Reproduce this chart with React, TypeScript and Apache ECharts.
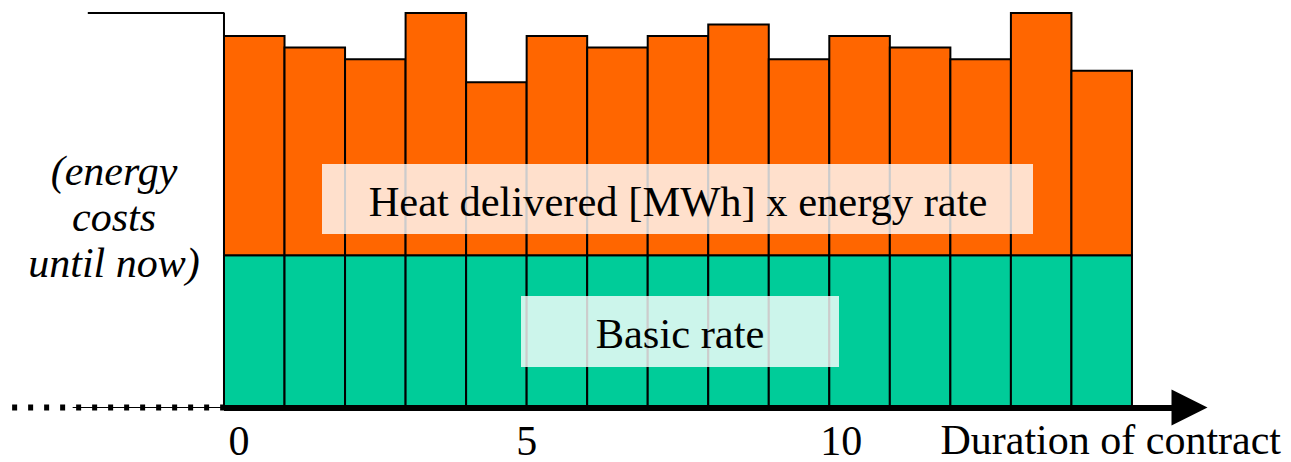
import React, { useEffect, useRef } from "react";
import * as echarts from "echarts";

// ---- data ----
const periods = [0, 1, 2, 3, 4, 5, 6, 7, 8, 9, 10, 11, 12, 13, 14];
const basicRate = [13.2, 13.2, 13.2, 13.2, 13.2, 13.2, 13.2, 13.2, 13.2, 13.2, 13.2, 13.2, 13.2, 13.2, 13.2];
const energyRate = [19, 18, 17, 21, 15, 19, 18, 19, 20, 17, 19, 18, 17, 21, 16];
const previousCosts = 34.2; // energy costs until now
const tickValues = [0, 5, 10];
const previousStart = -2.25;
const axisStart = -3.5;
const arrowEnd = 15.95;

const FONT = "Liberation Serif";

export default function App() {
  const ref = useRef<HTMLDivElement>(null);

  useEffect(() => {
    if (!ref.current) return;
    const chart = echarts.init(ref.current, null, { renderer: "svg" });

    const basicData = periods.map((p, i) => [p, 0, basicRate[i]]);
    const energyData = periods.map((p, i) => [p, basicRate[i], basicRate[i] + energyRate[i]]);

    const makeRender = (fill: string) => (params: any, api: any) => {
      const x = api.value(0);
      const p0 = api.coord([x, api.value(1)]);
      const p1 = api.coord([x + 1, api.value(2)]);
      return {
        type: "rect",
        shape: { x: p0[0], y: p1[1], width: p1[0] - p0[0], height: p0[1] - p1[1] },
        style: { fill, stroke: "#000", lineWidth: 2 },
      };
    };

    const tickStyle = { fontFamily: FONT, fontSize: 42, lineHeight: 34, color: "#000" };

    const option: any = {
      animation: false,
      backgroundColor: "#fff",
      textStyle: { fontFamily: FONT },
      grid: { left: 12.13, right: 37.97, top: 13, bottom: 54.5, containLabel: false },
      xAxis: {
        type: "value",
        min: axisStart,
        max: 17,
        axisLine: { show: false },
        axisTick: { show: false },
        splitLine: { show: false },
        axisLabel: {
          customValues: tickValues,
          margin: 16,
          fontFamily: FONT,
          fontSize: 42,
          lineHeight: 34,
          color: "#000",
          formatter: (v: number) => `{t${v}|${v}}`,
          rich: {
            t0: { ...tickStyle, padding: [0, 0, 0, 30] },
            t5: { ...tickStyle },
            t10: { ...tickStyle, padding: [0, 0, 0, 24] },
          },
        },
      },
      yAxis: {
        type: "value",
        min: 0,
        max: previousCosts,
        show: false,
        splitLine: { show: false },
      },
      series: [
        {
          type: "custom",
          name: "Basic rate",
          renderItem: makeRender("#00CC99"),
          encode: { x: 0, y: [1, 2] },
          data: basicData,
          z: 2,
        },
        {
          type: "custom",
          name: "Energy",
          renderItem: makeRender("#FF6600"),
          encode: { x: 0, y: [1, 2] },
          data: energyData,
          z: 2,
        },
        {
          type: "line",
          name: "previous",
          clip: false,
          symbol: "none",
          lineStyle: { color: "#000", width: 2 },
          data: [
            [previousStart, previousCosts],
            [0, previousCosts],
            [0, basicRate[0] + energyRate[0]],
          ],
          z: 3,
          markLine: {
            silent: true,
            symbol: ["none", "triangle"],
            symbolSize: [36, 36],
            label: { show: false },
            lineStyle: { color: "#000", width: 6, type: "solid", opacity: 1 },
            emphasis: { disabled: true },
            data: [[{ coord: [0, 0] }, { coord: [arrowEnd, 0] }]],
            z: 5,
          },
        },
        {
          type: "line",
          name: "past-axis",
          clip: false,
          symbol: "none",
          lineStyle: { color: "#000", width: 6, type: [5, 11], cap: "butt" },
          data: [
            [axisStart, 0],
            [0, 0],
          ],
          z: 4,
        },
        {
          type: "line",
          name: "past-axis-thin",
          clip: false,
          symbol: "none",
          lineStyle: { color: "#000", width: 1.2 },
          data: [
            [-2.5, 0],
            [0, 0],
          ],
          z: 4,
        },
      ],
      graphic: [
        {
          type: "rect",
          z: 100,
          shape: { x: 322, y: 164, width: 711, height: 70 },
          style: { fill: "rgba(255,255,255,0.8)" },
        },
        {
          type: "text",
          z: 101,
          x: 678,
          y: 201,
          style: {
            text: "Heat delivered [MWh] x energy rate",
            fontFamily: FONT,
            fontSize: 42.5,
            fill: "#000",
            align: "center",
            verticalAlign: "middle",
          },
        },
        {
          type: "rect",
          z: 100,
          shape: { x: 521, y: 296, width: 318, height: 71 },
          style: { fill: "rgba(255,255,255,0.8)" },
        },
        {
          type: "text",
          z: 101,
          x: 680,
          y: 333,
          style: {
            text: "Basic rate",
            fontFamily: FONT,
            fontSize: 42.5,
            fill: "#000",
            align: "center",
            verticalAlign: "middle",
          },
        },
        {
          type: "text",
          z: 101,
          x: 114,
          y: 217,
          style: {
            text: "(energy\ncosts\nuntil now)",
            fontFamily: FONT,
            fontStyle: "italic",
            fontSize: 42,
            lineHeight: 46,
            fill: "#000",
            align: "center",
            verticalAlign: "middle",
          },
        },
        {
          type: "text",
          z: 101,
          x: 1281,
          y: 440,
          style: {
            text: "Duration of contract",
            fontFamily: FONT,
            fontSize: 42,
            lineHeight: 34,
            fill: "#000",
            align: "right",
            verticalAlign: "middle",
          },
        },
      ],
    };

    chart.setOption(option);
    return () => chart.dispose();
  }, []);

  return (
    <div
      ref={ref}
      style={{ position: "absolute", left: 0, top: 0, width: 1291, height: 462, background: "#fff" }}
    />
  );
}
